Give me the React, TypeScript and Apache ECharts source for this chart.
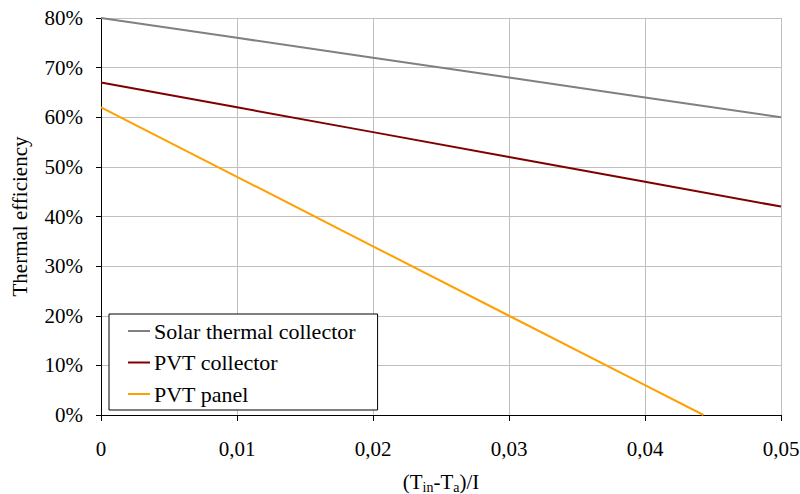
import React, { useEffect, useRef } from "react";
import * as echarts from "echarts";

const xValues = [0, 0.01, 0.02, 0.03, 0.04, 0.05];
const solarThermal = [80, 76, 72, 68, 64, 60];
const pvtCollector = [67, 62, 57, 52, 47, 42];
const pvtPanelX = [0, 0.01, 0.02, 0.03, 0.04, 0.0443];
const pvtPanel = [62, 48, 34, 20, 6, 0];
const seriesNames = ["Solar thermal collector", "PVT collector", "PVT panel"];
const colors = ["#808080", "#800000", "#FFA000"];

const FONT = "Liberation Serif";
const FS = 21;

export default function App() {
  const ref = useRef<HTMLDivElement>(null);
  useEffect(() => {
    if (!ref.current) return;
    const chart = echarts.init(ref.current, null, { renderer: "svg" });
    const pair = (xs: number[], ys: number[]) => xs.map((x, i) => [x, ys[i]]);
    chart.setOption({
      animation: false,
      backgroundColor: "#ffffff",
      textStyle: { fontFamily: FONT, color: "#000" },
      grid: { left: 101, right: 19, top: 18, bottom: 79, containLabel: false, outerBoundsMode: "none" },
      legend: {
        orient: "vertical",
        left: 109,
        top: 314,
        padding: [6, 22, 5, 19],
        itemGap: 9.5,
        itemWidth: 22,
        itemHeight: 14,
        borderColor: "#000",
        borderWidth: 1,
        borderRadius: 0,
        backgroundColor: "#fff",
        textStyle: { fontFamily: FONT, fontSize: 22, color: "#000", padding: [0, 0, 0, -1] },
        data: seriesNames.map((n) => ({ name: n, icon: "path://M0,0L22,0L22,2L0,2Z" })),
      },
      xAxis: {
        type: "value",
        min: 0,
        max: 0.05,
        interval: 0.01,
        name: "(T{sub|in}-T{sub|a})/I",
        nameLocation: "middle",
        nameGap: 55,
        nameTextStyle: {
          fontFamily: FONT,
          fontSize: FS,
          color: "#000",
          rich: {
            sub: { fontFamily: FONT, fontSize: 14, color: "#000", verticalAlign: "bottom", padding: [10, 0, 0, 0] },
          },
        },
        axisLine: { show: true, lineStyle: { color: "#000", width: 1 } },
        axisTick: { show: true, length: 6, lineStyle: { color: "#000" } },
        axisLabel: {
          fontFamily: FONT,
          fontSize: FS,
          color: "#000",
          margin: 23,
          formatter: (v: number) => (v === 0 ? "0" : v.toFixed(2).replace(".", ",")),
        },
        splitLine: { show: true, lineStyle: { color: "#c0c0c0", width: 1 } },
      },
      yAxis: {
        type: "value",
        min: 0,
        max: 80,
        interval: 10,
        name: "Thermal efficiency",
        nameLocation: "middle",
        nameGap: 71,
        nameRotate: 90,
        nameTextStyle: { fontFamily: FONT, fontSize: FS, color: "#000" },
        axisLine: { show: true, lineStyle: { color: "#000", width: 1 } },
        axisTick: { show: true, length: 5, lineStyle: { color: "#000" } },
        axisLabel: {
          fontFamily: FONT,
          fontSize: FS,
          color: "#000",
          margin: 18,
          formatter: (v: number) => v + "%",
        },
        splitLine: { show: true, lineStyle: { color: "#c0c0c0", width: 1 } },
      },
      series: [
        {
          name: seriesNames[0],
          type: "line",
          data: pair(xValues, solarThermal),
          symbol: "none",
          lineStyle: { color: colors[0], width: 2 },
          itemStyle: { color: colors[0] },
        },
        {
          name: seriesNames[1],
          type: "line",
          data: pair(xValues, pvtCollector),
          symbol: "none",
          lineStyle: { color: colors[1], width: 2 },
          itemStyle: { color: colors[1] },
        },
        {
          name: seriesNames[2],
          type: "line",
          data: pair(pvtPanelX, pvtPanel),
          symbol: "none",
          lineStyle: { color: colors[2], width: 2 },
          itemStyle: { color: colors[2] },
        },
      ],
    });
    return () => chart.dispose();
  }, []);
  return <div ref={ref} style={{ width: 800, height: 494, position: "absolute", left: 0, top: 0 }} />;
}
